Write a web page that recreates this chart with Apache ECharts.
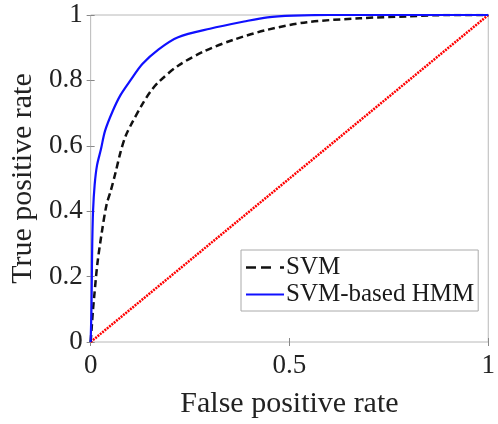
<!DOCTYPE html>
<html>
<head>
<meta charset="utf-8">
<script src="https://cdn.jsdelivr.net/npm/echarts@6/dist/echarts.min.js"></script>
<style>html,body{margin:0;padding:0;background:#fff;}#c{width:498px;height:424px;}</style>
</head>
<body>
<div id="c"></div>
<script>
var xTicks = [0, 0.5, 1];
var yTicks = [0, 0.2, 0.4, 0.6, 0.8, 1];
var seriesNames = ['SVM', 'SVM-based HMM', 'Random'];
var svmCurve = [[0,0],[0.003,0.05],[0.006,0.1],[0.009,0.14],[0.017,0.24],[0.028,0.335],[0.04,0.42],[0.05,0.46],[0.063,0.52],[0.075,0.58],[0.088,0.63],[0.104,0.67],[0.129,0.725],[0.15,0.765],[0.171,0.795],[0.22,0.845],[0.287,0.89],[0.361,0.925],[0.445,0.955],[0.544,0.978],[0.677,0.99],[0.8,0.996],[0.9,1],[1,1]];
var hmmCurve = [[0,0],[0.002,0.1],[0.003,0.2],[0.004,0.3],[0.006,0.4],[0.01,0.48],[0.016,0.54],[0.026,0.59],[0.036,0.645],[0.055,0.705],[0.075,0.755],[0.1,0.80],[0.13,0.85],[0.171,0.895],[0.22,0.932],[0.3,0.958],[0.386,0.98],[0.445,0.993],[0.51,0.998],[0.6,1],[1,1]];
var diagLine = [[0,0],[1,1]];

var font = 'Liberation Serif';
var chart = echarts.init(document.getElementById('c'), null, {renderer: 'canvas'});
function fmt(v){ return String(Math.round(v*10)/10); }
var axisCommon = {
  type: 'value', min: 0, max: 1,
  splitLine: {show: false},
  axisLine: {show: false},
  axisTick: {show: true, inside: true, length: 4, lineStyle: {color: '#888', width: 1}}
};
var dashIcon = 'path://M0,0h10v2.6h-10zM15,0h10v2.6h-10zM34,0h4v2.6h-4z';
var solidIcon = 'path://M0,0h38v2.2h-38z';
chart.setOption({
  animation: false,
  backgroundColor: '#fff',
  grid: {left: 88, right: 7, top: 15, bottom: 76, show: true, borderColor: '#b8b8b8', borderWidth: 1, backgroundColor: 'transparent'},
  legend: {
    data: [{name: seriesNames[0], icon: dashIcon}, {name: seriesNames[1], icon: solidIcon}],
    orient: 'vertical', left: 241, top: 250,
    padding: [5, 4, 4, 5], itemGap: 2,
    itemWidth: 38, itemHeight: 12,
    backgroundColor: '#fff', borderColor: '#aaa', borderWidth: 1, borderRadius: 0,
    textStyle: {fontFamily: font, fontSize: 25, color: '#1a1a1a', padding: [0,0,0,-3], lineHeight: 25}
  },
  xAxis: [
    Object.assign({}, axisCommon, {
      position: 'bottom', interval: 0.5,
      axisLabel: {fontFamily: font, fontSize: 27, color: '#222', margin: 10, formatter: fmt},
      name: 'False positive rate', nameLocation: 'middle', nameGap: 47,
      nameTextStyle: {fontFamily: font, fontSize: 30, color: '#222'}
    }),
    Object.assign({}, axisCommon, {position: 'top', interval: 0.5, axisLabel: {show: false}})
  ],
  yAxis: [
    Object.assign({}, axisCommon, {
      position: 'left', interval: 0.2,
      axisLabel: {fontFamily: font, fontSize: 27, color: '#222', margin: 8, formatter: fmt},
      name: 'True positive rate', nameLocation: 'middle', nameGap: 47,
      nameTextStyle: {fontFamily: font, fontSize: 30, color: '#222'}
    }),
    Object.assign({}, axisCommon, {position: 'right', interval: 0.2, axisLabel: {show: false}})
  ],
  series: [
    {name: seriesNames[2], type: 'line', data: diagLine, symbol: 'none', silent: true,
     lineStyle: {color: '#ff0000', width: 2.5, type: [2, 1]}, z: 1},
    {name: seriesNames[0], type: 'line', data: svmCurve, symbol: 'none', smooth: 0.3,
     lineStyle: {color: '#111', width: 2.5, type: [7, 4]}, itemStyle: {color: '#111'}, z: 2},
    {name: seriesNames[1], type: 'line', data: hmmCurve, symbol: 'none', smooth: 0.3,
     lineStyle: {color: '#1010ff', width: 2.2}, itemStyle: {color: '#1010ff'}, z: 3}
  ]
});
</script>
</body>
</html>
